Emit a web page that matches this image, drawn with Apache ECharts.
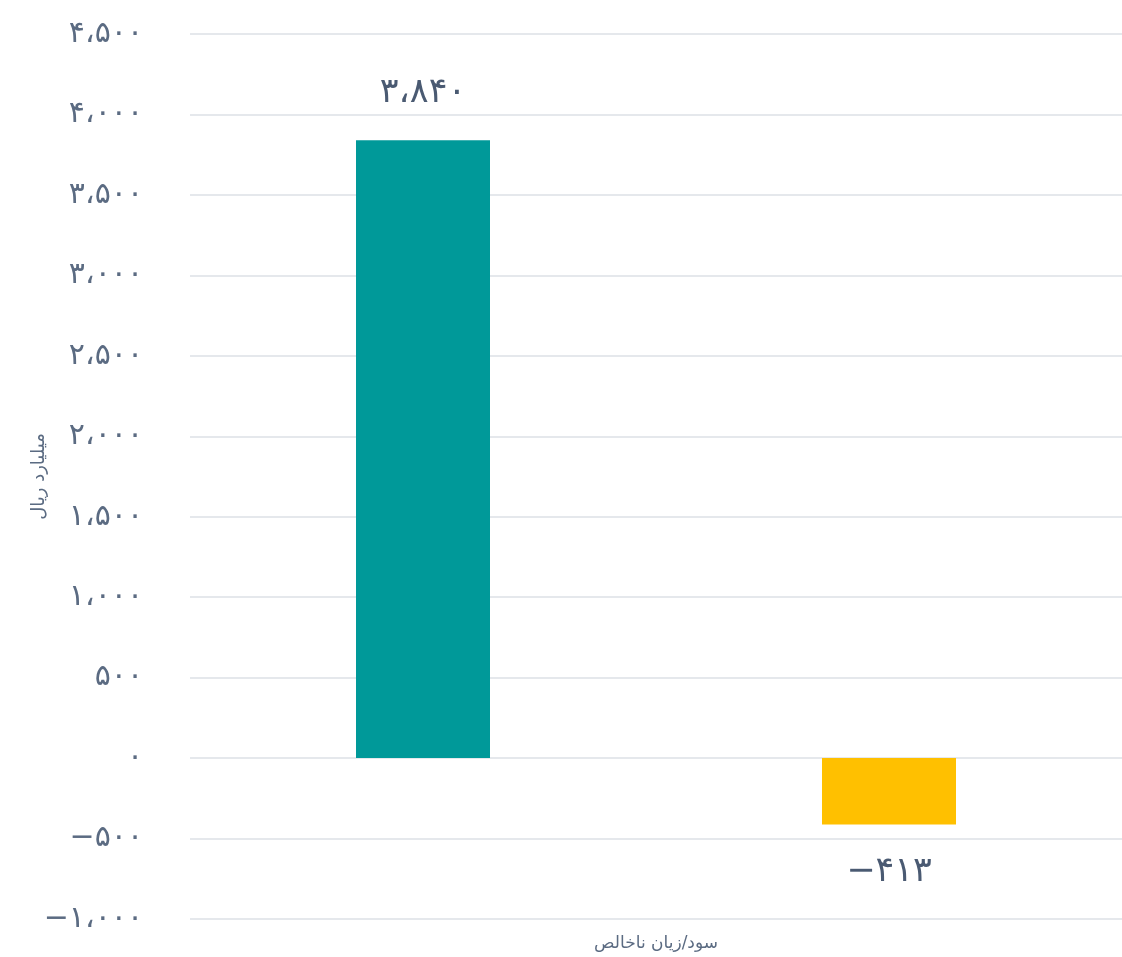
<!DOCTYPE html>
<html><head><meta charset="utf-8">
<script src="https://cdn.jsdelivr.net/npm/echarts@6/dist/echarts.min.js"></script>
<style>html,body{margin:0;padding:0;background:#fff}#c{width:1122px;height:957px}</style>
</head><body><div id="c"></div>
<script>
const categories = ['سود/زیان ناخالص ۱', 'سود/زیان ناخالص ۲'];
const values = [3840, -413];
const barColors = ['#009999', '#FFC000'];
const xAxisName = 'سود/زیان ناخالص';
const yAxisName = 'میلیارد ریال';
const yMin = -1000, yMax = 4500, yStep = 500;

function fa(n) {
  const d = '۰۱۲۳۴۵۶۷۸۹';
  const s = Math.abs(n).toString().replace(/\B(?=(\d{3})+(?!\d))/g, '،');
  return (n < 0 ? '−' : '') + s.replace(/\d/g, c => d[+c]);
}
const font = 'DejaVu Sans';
const txt = '#5b6b82';
const chart = echarts.init(document.getElementById('c'));
chart.setOption({
  animation: false,
  grid: { left: 190, right: 0, top: 34, bottom: 30 },
  xAxis: {
    type: 'category', data: categories,
    name: xAxisName, nameLocation: 'middle', nameGap: 16, nameMoveOverlap: false,
    nameTextStyle: { color: txt, fontSize: 17, fontFamily: font },
    axisLabel: { show: false }, axisTick: { show: false },
    axisLine: { show: false }
  },
  yAxis: {
    type: 'value', min: yMin, max: yMax, interval: yStep,
    name: yAxisName, nameLocation: 'middle', nameGap: 142, nameMoveOverlap: false,
    nameTextStyle: { color: txt, fontSize: 18, fontFamily: font },
    axisLabel: { color: txt, fontSize: 30, fontFamily: font, margin: 47, formatter: v => fa(v) },
    splitLine: { lineStyle: { color: '#dde0e6', width: 1.5 } },
    axisLine: { show: false }, axisTick: { show: false }
  },
  series: [{
    type: 'bar', barWidth: 134,
    data: values.map((v, i) => ({ value: v, itemStyle: { color: barColors[i] },
      label: { show: true, position: v >= 0 ? 'top' : 'bottom', distance: 30,
        color: '#4a5a72', fontSize: 35, fontFamily: font, formatter: p => fa(p.value) } }))
  }]
});
</script></body></html>
